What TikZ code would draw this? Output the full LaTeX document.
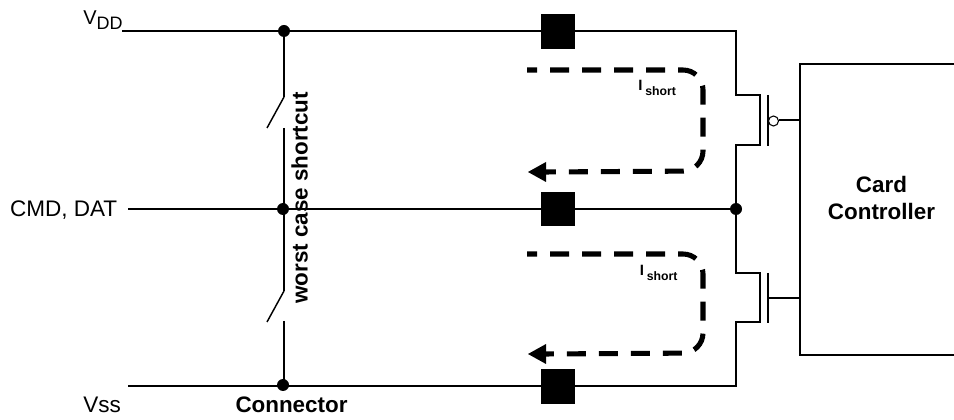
\documentclass[tikz,border=0pt]{standalone}
\usepackage{fontspec}
\setmainfont{Liberation Sans}
\usetikzlibrary{arrows.meta,calc}
\tikzset{
  wire/.style={line width=1.5pt,line cap=butt},
  thin wire/.style={line width=1.1pt},
  junction/.style={circle,fill=black,inner sep=0pt,minimum size=9pt},
  pad/.style={rectangle,fill=black,inner sep=0pt,minimum width=25.5pt,minimum height=26pt},
  bubble/.style={circle,draw=black,fill=white,line width=0.8pt,inner sep=0pt,minimum size=7.5pt},
  flow/.style={line width=3.8pt,dash pattern=on 14.25pt off 9.75pt,dash phase=6.75pt,rounded corners=15pt},
  flowtip/.style={draw=none,fill=black},
  lbl/.style={inner sep=0pt,font=\fontsize{16.9pt}{18pt}\selectfont},
  blbl/.style={inner sep=0pt,align=center,font=\fontsize{16.8pt}{20.25pt}\selectfont\bfseries},
  ilbl/.style={inner sep=0pt,anchor=base west,font=\fontsize{9.2pt}{11pt}\selectfont\bfseries},
}
\begin{document}
\begin{tikzpicture}[x=0.75pt,y=-0.75pt]
\useasboundingbox (0,0) rectangle (954,420);
% rails
\coordinate (vddL) at (122,31);
\coordinate (cmdL) at (128,209);
\coordinate (vssL) at (128,386);
\coordinate (vddR) at (736,31);
\coordinate (vssR) at (736,386);
\coordinate (d1) at (736,95);
\coordinate (d1b) at (760,95);
\coordinate (s1b) at (760,145);
\coordinate (s1) at (736,145);
\coordinate (d2) at (736,273);
\coordinate (d2b) at (760,273);
\coordinate (s2b) at (760,322);
\coordinate (s2) at (736,322);
\node[junction] (jvdd) at (284,31) {};
\node[junction] (jcmd) at (283,209) {};
\node[junction] (jvss) at (283,385) {};
\node[junction] (jout) at (736,209) {};
\draw[wire] (vddL) -- (vddR) -- (d1) -- (d1b) -- (s1b) -- (s1) -- (d2) -- (d2b) -- (s2b) -- (s2) -- (vssR) -- (vssL);
\draw[wire] (cmdL) -- (jout.center);
% pads
\node[pad] (p1) at (558,31.5) {};
\node[pad] (p2) at (558,209) {};
\node[pad] (p3) at (558,386.5) {};
% shortcut switches
\coordinate (sw1a) at (284,97);
\coordinate (sw1b) at (267,128);
\coordinate (sw1c) at (284,128);
\coordinate (sw2a) at (284,291);
\coordinate (sw2b) at (267,322);
\coordinate (sw2c) at (284,321);
\draw[wire] (jvdd.center) -- (sw1a);
\draw[thin wire] (sw1a) -- (sw1b);
\draw[wire] (sw1c) -- (sw2a);
\draw[thin wire] (sw2a) -- (sw2b);
\draw[wire] (sw2c) -- (284,385);
% transistors
\coordinate (g1t) at (768,95);
\coordinate (g1b) at (768,146);
\coordinate (g2t) at (768,273);
\coordinate (g2b) at (768,323);
\coordinate (g2m) at (768,298);
\draw[wire] (g1t) -- (g1b);
\draw[wire] (g2t) -- (g2b);
% controller
\coordinate (cTR) at (954,64);
\coordinate (cTL) at (800,64);
\coordinate (cBL) at (800,355);
\coordinate (cBR) at (954,355);
\coordinate (cG1) at (800,120);
\coordinate (cG2) at (800,298);
\draw[wire] (cTR) -- (cTL) -- (cBL) -- (cBR);
\node[bubble] (bub) at (773.5,121) {};
\draw[wire] (bub.east |- cG1) -- (cG1);
\draw[wire] (g2m) -- (cG2);
\node[blbl] (card) at (881.5,197.5) {Card\\Controller};
% current paths
\draw[flow] (527,70) -- (703,70) -- (703,171) -- (544,172);
\fill[flowtip] (528,172) -- (546,162) -- (546,182) -- cycle;
\draw[flow] (527,254) -- (703,254) -- (703,353) -- (544,354);
\fill[flowtip] (528,354) -- (546,344) -- (546,364) -- cycle;
% labels
\node[ilbl] (i1) at (638,91) {\fontsize{11.2pt}{12pt}\selectfont I\hspace{2.2pt}\raisebox{-3.2pt}{\fontsize{9.2pt}{11pt}\selectfont\bfseries short}};
\node[ilbl] (i2) at (639.5,276) {\fontsize{11.2pt}{12pt}\selectfont I\hspace{2.2pt}\raisebox{-3.2pt}{\fontsize{9.2pt}{11pt}\selectfont\bfseries short}};
\node[inner sep=0pt,anchor=base west,font=\fontsize{15pt}{16pt}\selectfont] (vdd) at (83,25) {V\raisebox{-3.6pt}{\fontsize{13.5pt}{16pt}\selectfont DD}};
\node[lbl,anchor=base east] (cmd) at (117.5,217) {CMD, DAT};
\node[lbl,anchor=base west] (vss) at (83,413) {Vss};
\node[blbl,anchor=base] (conn) at (291.5,412) {Connector};
\node[blbl,rotate=90] (worst) at (299.5,198) {worst case shortcut};
\end{tikzpicture}
\end{document}
